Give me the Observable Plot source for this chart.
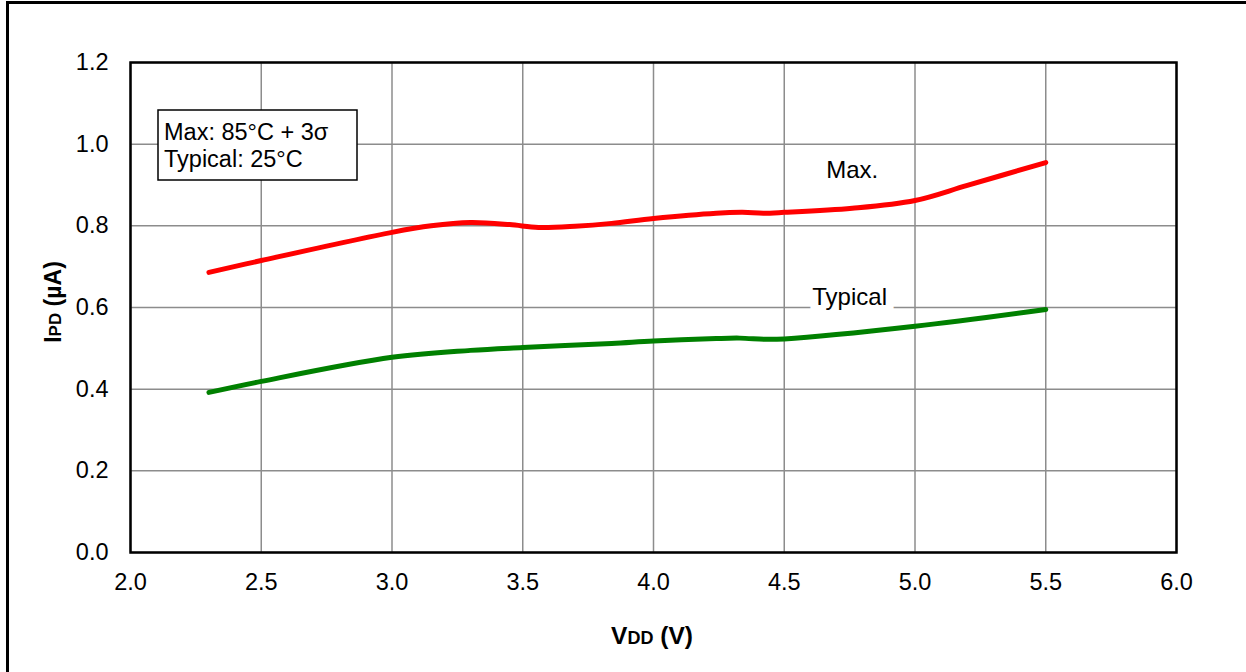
<!DOCTYPE html>
<html>
<head>
<meta charset="utf-8">
<script src="https://cdn.jsdelivr.net/npm/d3@7"></script>
<script src="https://cdn.jsdelivr.net/npm/@observablehq/plot@0.6"></script>
<style>
  html, body { margin: 0; padding: 0; background: #fff; }
  #wrap { position: relative; width: 1246px; height: 672px; overflow: hidden; }
  #outer { position: absolute; left: 6px; top: 1px; width: 1300px; height: 800px;
           border-left: 3px solid #000; border-top: 3px solid #000; pointer-events: none; }
</style>
</head>
<body>
<div id="wrap"><div id="outer"></div></div>
<script>
const xTicks = [2.0, 2.5, 3.0, 3.5, 4.0, 4.5, 5.0, 5.5, 6.0];
const yTicks = [0.0, 0.2, 0.4, 0.6, 0.8, 1.0, 1.2];

const maxV = [2.3, 2.5, 3.0, 3.15, 3.3, 3.45, 3.56, 3.7, 3.84, 4.0, 4.24, 4.34, 4.42, 4.5, 4.76, 5.0, 5.2, 5.5];
const maxI = [0.686, 0.715, 0.784, 0.800, 0.808, 0.803, 0.796, 0.799, 0.806, 0.818, 0.831, 0.833, 0.831, 0.833, 0.843, 0.862, 0.899, 0.955];

const typV = [2.3, 2.5, 3.0, 3.3, 3.5, 3.84, 4.0, 4.24, 4.33, 4.43, 4.5, 5.0, 5.5];
const typI = [0.392, 0.419, 0.478, 0.495, 0.502, 0.512, 0.518, 0.524, 0.525, 0.522, 0.523, 0.554, 0.595];

const maxData = maxV.map((v, i) => ({v, i: maxI[i]}));
const typData = typV.map((v, i) => ({v, i: typI[i]}));

const curveLabels = [
  {text: "Max.", v: 4.76, i: 0.935},
  {text: "Typical", v: 4.75, i: 0.625}
];
const legendLines = ["Max: 85°C + 3σ", "Typical: 25°C"];

const font = "Liberation Sans, Arial, Helvetica, sans-serif";

const chart = Plot.plot({
  width: 1246,
  height: 672,
  marginLeft: 130,
  marginRight: 70,
  marginTop: 62,
  marginBottom: 120,
  style: {fontFamily: font, fontSize: "23.5px", background: "transparent", color: "#000"},
  x: {domain: [2, 6], label: null},
  y: {domain: [0, 1.2], label: null},
  marks: [
    Plot.gridX(xTicks, {stroke: "#8c8c8c", strokeOpacity: 1, strokeWidth: 1.5}),
    Plot.gridY(yTicks, {stroke: "#8c8c8c", strokeOpacity: 1, strokeWidth: 1.5}),
    Plot.frame({stroke: "#000", strokeWidth: 2.5}),
    Plot.line(typData, {x: "v", y: "i", stroke: "#008000", strokeWidth: 5, curve: "catmull-rom", strokeLinecap: "round"}),
    Plot.line(maxData, {x: "v", y: "i", stroke: "#ff0000", strokeWidth: 5, curve: "catmull-rom", strokeLinecap: "round"}),
    Plot.text(curveLabels, {x: "v", y: "i", text: "text", fontSize: 24, fill: "#000",
      stroke: "#fff", strokeWidth: 16, paintOrder: "stroke", strokeLinejoin: "miter"}),
    Plot.axisX({ticks: xTicks, tickFormat: d => d.toFixed(1), tickSize: 0, tickPadding: 21, label: null, fontSize: 23.5}),
    Plot.axisY({ticks: yTicks, tickFormat: d => d.toFixed(1), tickSize: 0, tickPadding: 22, label: null, fontSize: 23.5})
  ]
});

const svg = d3.select(chart);

// Legend box
const lg = svg.append("g").attr("text-anchor", "start");
lg.append("rect").attr("x", 158).attr("y", 110).attr("width", 199).attr("height", 70)
  .attr("fill", "#fff").attr("stroke", "#000").attr("stroke-width", 1.5);
legendLines.forEach((t, k) => {
  lg.append("text").attr("x", 164).attr("y", 140 + k * 27).attr("font-size", 23.5)
    .attr("text-anchor", "start")
    .attr("font-family", font).attr("fill", "#000").text(t);
});

// X axis label
const xl = svg.append("text").attr("x", 652).attr("y", 644).attr("text-anchor", "middle")
  .attr("font-family", font).attr("font-weight", "bold").attr("fill", "#000");
xl.append("tspan").attr("font-size", 24.5).text("V");
xl.append("tspan").attr("font-size", 18).text("DD");
xl.append("tspan").attr("font-size", 24.5).text(" (V)");

// Y axis label
const yl = svg.append("text").attr("transform", "translate(61,302) rotate(-90)").attr("text-anchor", "middle")
  .attr("font-family", font).attr("font-weight", "bold").attr("fill", "#000");
yl.append("tspan").attr("font-size", 23).text("I");
yl.append("tspan").attr("font-size", 17).text("PD");
yl.append("tspan").attr("font-size", 23).text(" (µA)");

document.getElementById("wrap").prepend(chart);
</script>
</body>
</html>
